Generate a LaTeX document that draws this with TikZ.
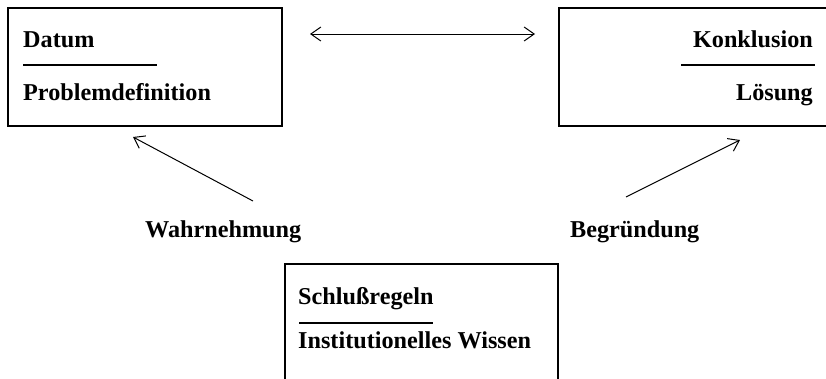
\documentclass[tikz,border=0pt]{standalone}
\usepackage{fontspec}
\setmainfont{Liberation Serif}
\usetikzlibrary{arrows.meta}
\begin{document}
\begin{tikzpicture}[x=1pt,y=-1pt,
  box/.style={draw, line width=1.3pt, rectangle, inner sep=0pt},
  lbl/.style={inner sep=0pt, font=\fontsize{24.2}{28}\selectfont\bfseries},
  sep/.style={line width=1.2pt},
  arr/.style={line width=1pt, -{Straight Barb[length=10pt,width=14pt,line width=1pt]}},
  darr/.style={line width=1pt, {Straight Barb[length=10pt,width=14pt,line width=1pt]}-{Straight Barb[length=10pt,width=14pt,line width=1pt]}}]
\clip (0,0) rectangle (826,378);
\fill[white] (0,0) rectangle (826,378);
% boxes
\node[box, minimum width=274pt, minimum height=118pt] (datumbox) at (145,67) {};
\node[box, minimum width=281pt, minimum height=118pt] (konbox) at (699.5,67) {};
\node[box, minimum width=273pt, minimum height=140pt] (regbox) at (421.5,334) {};
% texts left
\node[lbl, anchor=base west] (datum) at (23,47) {Datum};
\node[lbl, anchor=base west] (prob) at (23,100) {Problemdefinition};
\coordinate (s1a) at (23,65);
\coordinate (s1b) at (157,65);
\draw[sep] (s1a) -- (s1b);
% texts right
\node[lbl, anchor=base east] (konk) at (813,47) {Konklusion};
\node[lbl, anchor=base east] (loes) at (813,100) {Lösung};
\coordinate (s2a) at (681,65);
\coordinate (s2b) at (815,65);
\draw[sep] (s2a) -- (s2b);
% texts bottom
\node[lbl, anchor=base west] (schl) at (298,304) {Schlußregeln};
\node[lbl, anchor=base west] (inst) at (298,348) {Institutionelles Wissen};
\coordinate (s3a) at (299,323);
\coordinate (s3b) at (433,323);
\draw[sep] (s3a) -- (s3b);
% labels
\node[lbl, anchor=base west] (wahr) at (145,237) {Wahrnehmung};
\node[lbl, anchor=base west] (begr) at (570,237) {Begründung};
% arrows
\coordinate (d1) at (310,34);
\coordinate (d2) at (535,34);
\draw[darr] (d1) -- (d2);
\coordinate (w1) at (253,201);
\coordinate (w2) at (133,137);
\draw[arr] (w1) -- (w2);
\coordinate (b1) at (626,197);
\coordinate (b2) at (740,140);
\draw[arr] (b1) -- (b2);
\end{tikzpicture}
\end{document}
